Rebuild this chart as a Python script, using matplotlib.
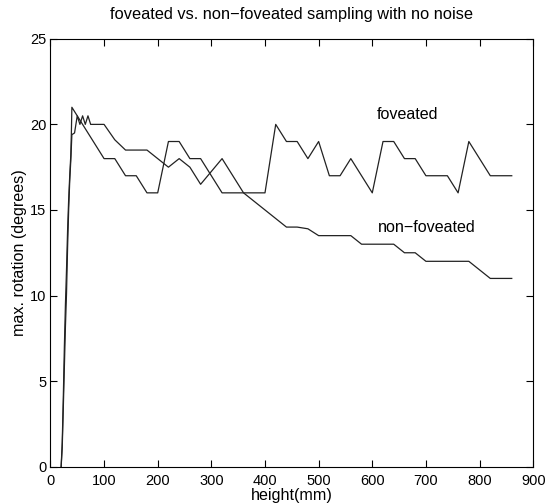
""" foveated vs non-foveated sampling, max rotation against height """
import matplotlib
matplotlib.use("Agg")
import matplotlib.pyplot as plt

plt.rcParams['font.family'] = ['Liberation Sans', 'DejaVu Sans']

# height in mm
height = [20, 22, 24, 26, 28, 30, 32, 34, 36, 38, 40, 45, 50, 55, 60, 65, 70, 75,
          100, 120, 140, 160, 180, 200, 220, 240, 260, 280, 300, 320, 340, 360,
          380, 400, 420, 440, 460, 480, 500, 520, 540, 560, 580, 600, 620, 640,
          660, 680, 700, 720, 740, 760, 780, 800, 820, 840, 860]

# foveated sampling, max rotation (degrees)
fov_x = [20, 22, 24, 26, 28, 30, 32, 34, 36, 38, 39, 40,
         100, 120, 140, 160, 180, 200, 220, 240, 260, 280, 300, 320, 340, 360,
         380, 400, 420, 440, 460, 480, 500, 520, 540, 560, 580, 600, 620, 640,
         660, 680, 700, 720, 740, 760, 780, 800, 820, 840, 860]
foveated = [0, 1.4, 4.0, 7.0, 9.5, 11.5, 13.8, 15.6, 17.0, 18.2, 19.4, 21.0,
            18, 18, 17, 17, 16, 16, 19, 19, 18, 18, 17, 16, 16, 16,
            16, 16, 20, 19, 19, 18, 19, 17, 17, 18, 17, 16, 19, 19,
            18, 18, 17, 17, 17, 16, 19, 18, 17, 17, 17]

# non-foveated sampling, max rotation (degrees)
non_foveated = [0, 1.1, 3.4, 5.8, 8.2, 10.1, 12.8, 15.0, 16.7, 17.9, 19.4, 19.5, 20.5, 20.0, 20.5, 20.0, 20.5, 20.0,
                20.0, 19.1, 18.5, 18.5, 18.5, 18.0, 17.5, 18.0, 17.5, 16.5, 17.25, 18.0, 17.0, 16.0,
                15.5, 15.0, 14.5, 14.0, 14.0, 13.9, 13.5, 13.5, 13.5, 13.5, 13.0, 13.0, 13.0, 13.0,
                12.5, 12.5, 12.0, 12.0, 12.0, 12.0, 12.0, 11.5, 11.0, 11.0, 11.0]

fig = plt.figure(figsize=(5.48, 5.04), dpi=100)
ax = fig.add_axes([0.092, 0.074, 0.881, 0.849])

ax.plot(fov_x, foveated, color='#222222', lw=0.9)
ax.plot(height, non_foveated, color='#222222', lw=0.9)

ax.text(665, 20.55, 'foveated', fontsize=11.6, ha='center', va='center')
ax.text(702, 14.0, 'non\u2212foveated', fontsize=11.6, ha='center', va='center')

ax.set_xlim(0, 900)
ax.set_ylim(0, 25)
ax.set_xticks(range(0, 901, 100))
ax.set_yticks(range(0, 26, 5))
ax.tick_params(direction='in', top=True, right=True, length=5, labelsize=10.5)
ax.tick_params(axis='x', pad=5)
ax.tick_params(axis='y', pad=3)
for s in ax.spines.values():
    s.set_linewidth(0.8)

ax.set_title('foveated vs. non\u2212foveated sampling with no noise', fontsize=11.8, pad=14)
ax.set_xlabel('height(mm)', fontsize=11.6, labelpad=0)
ax.set_ylabel('max. rotation (degrees)', fontsize=11.6, labelpad=2)

fig.savefig('out.png', dpi=100)
